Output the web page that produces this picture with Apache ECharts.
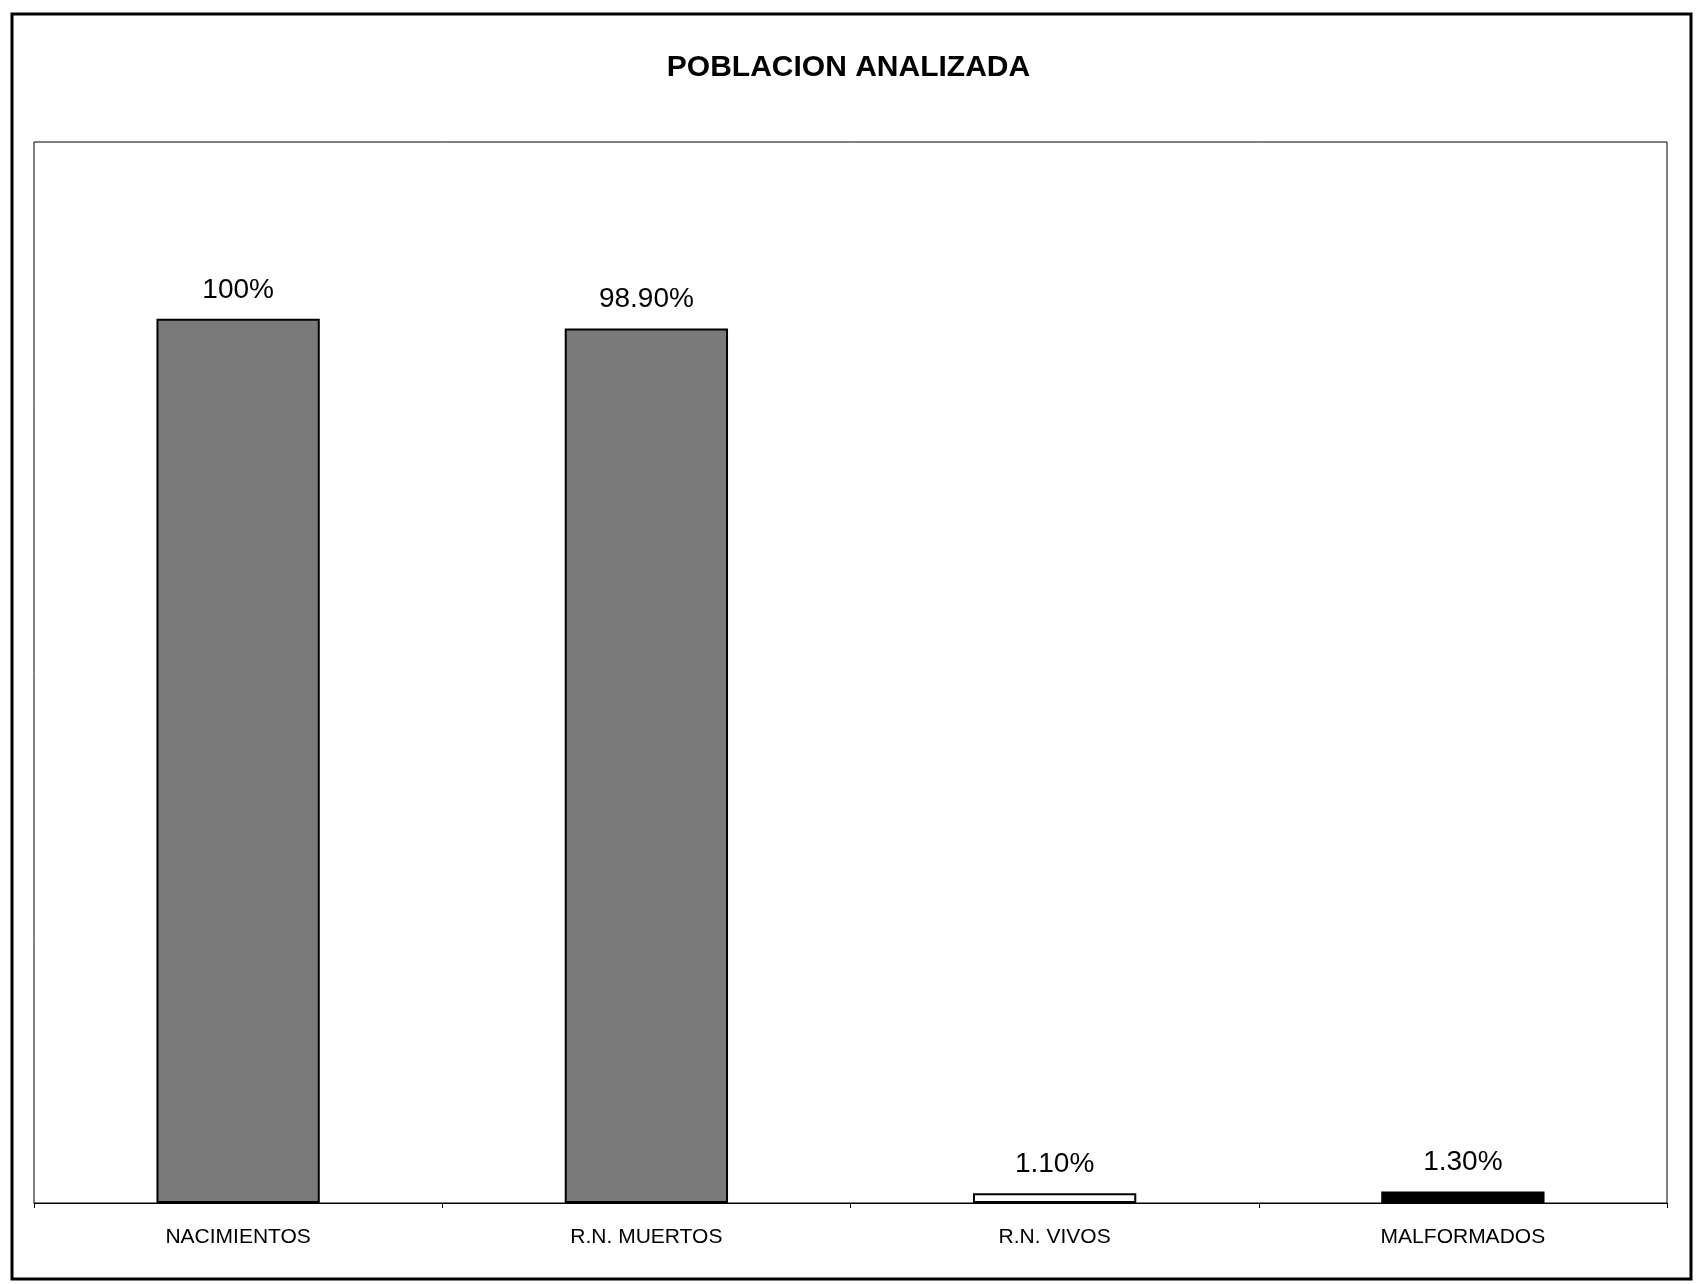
<!DOCTYPE html>
<html>
<head>
<meta charset="utf-8">
<script src="https://cdn.jsdelivr.net/npm/echarts@6/dist/echarts.min.js"></script>
<style>
html,body{margin:0;padding:0;background:#fff;}
#chart{width:1697px;height:1284px;}
</style>
</head>
<body>
<div id="chart"></div>
<script>
const categories = ['NACIMIENTOS', 'R.N. MUERTOS', 'R.N. VIVOS', 'MALFORMADOS'];
const values = [100, 98.9, 1.1, 1.3];
const valueLabels = ['100%', '98.90%', '1.10%', '1.30%'];
const barColors = ['#7a7a7a', '#7a7a7a', '#ffffff', '#000000'];

const chart = echarts.init(document.getElementById('chart'), null, {renderer: 'canvas'});
chart.setOption({
  backgroundColor: '#ffffff',
  animation: false,
  title: {
    text: 'POBLACION ANALIZADA',
    left: 'center',
    top: 48,
    textStyle: {fontFamily: 'Liberation Sans, Arial, sans-serif', fontWeight: 'bold', fontSize: 30, color: '#000'}
  },
  graphic: [{
    type: 'rect',
    shape: {x: 12, y: 14, width: 1679, height: 1265},
    style: {fill: 'none', stroke: '#000', lineWidth: 3},
    silent: true
  }],
  grid: {left: 34, right: 30, top: 142, bottom: 81, show: true, borderColor: '#000', borderWidth: 1, backgroundColor: 'transparent'},
  xAxis: {
    type: 'category',
    data: categories,
    axisLine: {lineStyle: {color: '#000', width: 1}},
    axisTick: {show: true, length: 5, inside: false, lineStyle: {color: '#000'}},
    axisLabel: {margin: 24, fontFamily: 'Liberation Sans, Arial, sans-serif', fontSize: 21, color: '#000'}
  },
  yAxis: {
    type: 'value', min: 0, max: 120,
    show: false,
    splitLine: {show: false}
  },
  series: [{
    type: 'bar',
    barWidth: '40%',
    data: values.map((v, i) => ({
      value: v,
      itemStyle: {color: barColors[i], borderColor: '#000', borderWidth: 2},
      label: {formatter: valueLabels[i]}
    })),
    label: {
      show: true, position: 'top', distance: 15,
      fontFamily: 'Liberation Sans, Arial, sans-serif', fontSize: 28, color: '#000'
    }
  }]
});
</script>
</body>
</html>
